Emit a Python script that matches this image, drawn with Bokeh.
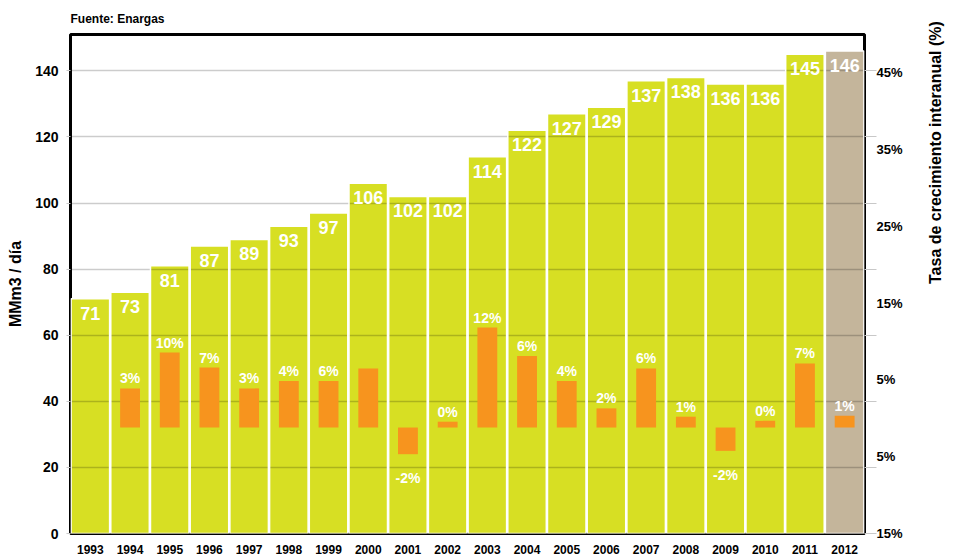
import math
from bokeh.plotting import figure
from bokeh.models import Range1d, LinearAxis, FixedTicker, ColumnDataSource
from bokeh.core.properties import value
from bokeh.embed import file_html
from bokeh.resources import INLINE

# ---- data ----
years = list(range(1993, 2013))
consumo = [71, 73, 81, 87, 89, 93, 97, 106, 102, 102, 114, 122, 127, 129, 137, 138, 136, 136, 145, 146]
growth_years = list(range(1994, 2013))
growth = [4.7, 9.0, 7.2, 4.7, 5.6, 5.6, 7.1, -3.2, 0.7, 12.0, 8.6, 5.6, 2.3, 7.1, 1.3, -2.8, 0.8, 7.7, 1.4]
growth_labels = ["3%", "10%", "7%", "3%", "4%", "6%", "", "-2%", "0%", "12%", "6%", "4%", "2%", "6%", "1%", "-2%", "0%", "7%", "1%"]
left_ticks = [0, 20, 40, 60, 80, 100, 120, 140]
right_ticks = [-15, -5, 5, 15, 25, 35, 45]
right_tick_labels = ["15%", "5%", "5%", "15%", "25%", "35%", "45%"]

GREEN = "#d7df23"
TAN = "#c4b59b"
ORANGE = "#f7941e"
FONT = "Liberation Sans"

bar_colors = [GREEN] * (len(years) - 1) + [TAN]
src = ColumnDataSource(dict(x=years, top=consumo, color=bar_colors,
                            label=[str(v) for v in consumo]))

pos = [(x, g, l) for x, g, l in zip(growth_years, growth, growth_labels) if g >= 0]
neg = [(x, g, l) for x, g, l in zip(growth_years, growth, growth_labels) if g < 0]

p = figure(width=957, height=558, x_range=Range1d(1992.5, 2012.5), y_range=Range1d(0, 151),
           output_backend="svg", toolbar_location=None,
           min_border_left=70, min_border_right=93, min_border_top=34, min_border_bottom=25)
p.extra_y_ranges = {"pct": Range1d(-15, 50), "g": Range1d(-12.72, 47.18)}

p.title.text = "Fuente: Enargas"
p.title.text_font = FONT
p.title.text_font_size = "12px"
p.title.text_font_style = "bold"
p.title.text_color = "black"
p.title.align = "left"
p.title.standoff = 17

p.outline_line_color = "black"
p.outline_line_width = 3
p.outline_line_alpha = 1
p.background_fill_color = "white"
p.border_fill_color = "white"

# x axis
xa = p.xaxis[0]
xa.ticker = FixedTicker(ticks=years)
xa.axis_line_color = None
xa.major_tick_line_color = None
xa.minor_tick_line_color = None
xa.major_label_standoff = 5
xa.major_label_text_font = FONT
xa.major_label_text_font_style = "bold"
xa.major_label_text_font_size = "12px"
xa.major_label_text_color = "black"

# left axis
ya = p.yaxis[0]
ya.ticker = FixedTicker(ticks=left_ticks)
ya.axis_line_color = None
ya.major_tick_out = 4
ya.major_tick_in = 0
ya.major_tick_line_color = "#c8c8c8"
ya.minor_tick_line_color = None
ya.major_label_standoff = 8
ya.major_label_text_font = FONT
ya.major_label_text_font_style = "bold"
ya.major_label_text_font_size = "14px"
ya.major_label_text_color = "black"
ya.axis_label = "MMm3 / día"
ya.axis_label_text_font = FONT
ya.axis_label_text_font_style = "bold"
ya.axis_label_text_font_size = "16px"
ya.axis_label_text_color = "black"
ya.axis_label_standoff = 8

p.xgrid.grid_line_color = None
p.ygrid.ticker = FixedTicker(ticks=left_ticks)
p.ygrid.grid_line_color = "black"
p.ygrid.grid_line_alpha = 0.2
p.ygrid.grid_line_width = 1.5

# right side: tick marks at left values, then % labels
ax1 = LinearAxis(ticker=FixedTicker(ticks=left_ticks), major_tick_out=12, major_tick_in=0,
                 major_tick_line_color="#c8c8c8", axis_line_color=None,
                 minor_tick_line_color=None, major_label_standoff=0,
                 major_label_overrides={t: "" for t in left_ticks},
                 major_label_text_font_size="1px")
p.add_layout(ax1, "right")

ax2 = LinearAxis(y_range_name="pct", ticker=FixedTicker(ticks=right_ticks),
                 major_label_overrides=dict(zip(right_ticks, right_tick_labels)),
                 major_tick_out=0, major_tick_in=0, major_tick_line_color=None,
                 minor_tick_line_color=None, axis_line_color=None,
                 major_label_standoff=0,
                 major_label_text_font=FONT, major_label_text_font_style="bold",
                 major_label_text_font_size="13px", major_label_text_color="black",
                 axis_label="Tasa de crecimiento interanual (%)",
                 axis_label_text_font=FONT, axis_label_text_font_style="bold",
                 axis_label_text_font_size="16px", axis_label_text_color="black",
                 axis_label_standoff=30)
try:
    ax2.axis_label_orientation = math.pi / 2
except Exception:
    pass
p.add_layout(ax2, "right")

# bars
rb = p.vbar(x="x", top="top", width=0.97, fill_color="color", line_color=None, source=src)
rb.level = "image"
p.vbar(x="x", top="top", width=0.97, fill_color=None, line_color="white", line_width=1.5, source=src)

p.vbar(x=growth_years, top=growth, bottom=0, width=0.5, fill_color=ORANGE, line_color=None,
       y_range_name="g")

# labels
p.text(x="x", y="top", text="label", source=src, text_align="center", text_baseline="top",
       y_offset=8, text_color="white", text_font=value(FONT), text_font_style="bold",
       text_font_size="18px")

p.text(x=[a[0] for a in pos], y=[a[1] for a in pos], text=[a[2] for a in pos],
       y_range_name="g", text_align="center", text_baseline="bottom", y_offset=-2,
       text_color="white", text_font=value(FONT), text_font_style="bold", text_font_size="14px")
p.text(x=[a[0] for a in neg], y=[a[1] for a in neg], text=[a[2] for a in neg],
       y_range_name="g", text_align="center", text_baseline="top", y_offset=16,
       text_color="white", text_font=value(FONT), text_font_style="bold", text_font_size="14px")

open("out.html", "w").write(file_html(p, INLINE))
